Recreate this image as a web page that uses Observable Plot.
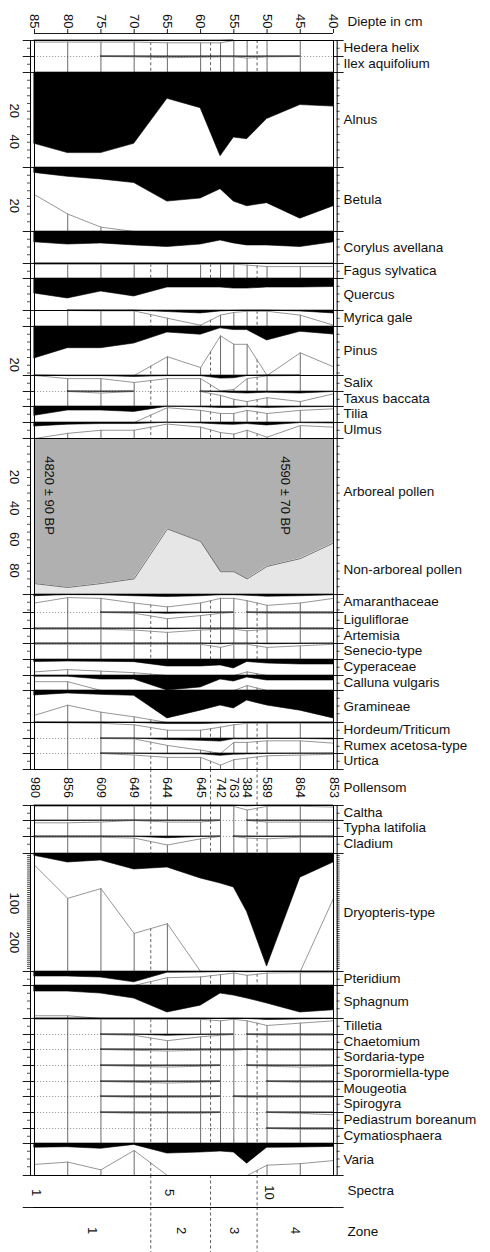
<!DOCTYPE html>
<html><head><meta charset="utf-8">
<script src="https://cdn.jsdelivr.net/npm/d3@7"></script>
<script src="https://cdn.jsdelivr.net/npm/@observablehq/plot@0.6"></script>
<style>
html,body{margin:0;padding:0;background:#fff;}
#chart svg{display:block;}
</style></head><body><div id="chart"></div>
<script>
// ---------------- DATA ----------------
const depths = [85, 80, 75, 70, 65, 60, 57, 55, 53, 50, 45, 40];
const depthTicks = [85, 80, 75, 70, 65, 60, 55, 50, 45, 40];
const pollenSum = [980, 856, 609, 649, 644, 645, 742, 763, 384, 589, 864, 853];
const spectraShown = [1, 5, 10];
const zoneBounds = [67.5, 58.5, 51.5];
const zoneNames = ["1", "2", "3", "4"];
const dates = [{depth: 82.8, label: "4820 ± 90 BP"}, {depth: 47.2, label: "4590 ± 70 BP"}];

// percentages per sample (same order as depths)
const hedera      = [0.2, 0.2, 0.2, 0.2, 0.3, 0.3, 0.3, 0, 0, 0, 0, 0];
const ilex        = [0, 0, 0, 0.05, 0.15, 0.1, 0.05, 0.05, 0.2, 0.05, 0, 0];
const alnus       = [46, 52, 52, 46, 17, 23, 54, 42, 43, 30, 21, 22];
const betula      = [3.5, 6, 7.7, 10, 22, 20, 14, 22, 25, 23, 33, 25];
const corylus     = [7, 8.4, 7.7, 9, 10, 8.4, 5.8, 7.7, 9, 9, 10, 7];
const fagus       = [0.1, 0.1, 0.1, 0.1, 0.1, 0.1, 0.1, 0.1, 0.2, 0.4, 0.4, 0.4];
const quercus     = [9.7, 12.9, 8.4, 11.6, 5.8, 5.8, 5.8, 6.5, 6.5, 5.8, 5.8, 5.5];
const myrica      = [0, 0, 0.05, 0.05, 1.0, 1.9, 0.6, 0.25, 0.1, 0.1, 0.6, 1.9];
const pinus       = [20.6, 14, 14, 11, 3.9, 5.3, 1.2, 2.3, 2.3, 9, 3.4, 5.2];
const salix       = [0, 0.4, 0.4, 0.9, 0.4, 0.4, 2.0, 1.8, 0.4, 0.05, 0, 0];
const taxus       = [0, 0, 0.2, 0, 0, 0, 0.5, 1.0, 1.3, 0.8, 1.3, 0.3];
const tilia       = [6, 2.6, 2.6, 3.5, 0.15, 0.5, 0.9, 0.9, 0.5, 0.9, 0.5, 0.3];
const ulmus       = [2.6, 1.4, 1.0, 1.0, 0.2, 0.6, 1.3, 1.5, 1.0, 1.9, 0.4, 0.6];
const arborealPollen = [93, 95.5, 93, 90, 58, 66, 85.4, 85.4, 90, 82, 77, 67];
const amaranth    = [1.1, 0.4, 0.5, 1.1, 1.6, 1.1, 0.5, 0.5, 0.8, 1.4, 1.1, 0.5];
const liguliflorae= [0, 0, 0, 0.1, 0.8, 0.4, 0.1, 0, 0, 0.1, 0.1, 0.1];
const artemisia   = [0.1, 0.1, 0.1, 0.2, 0.5, 0.2, 0.1, 0.1, 0.3, 0.1, 0.1, 0.1];
const senecio     = [0.1, 0.1, 0.1, 0.1, 0.1, 0.1, 0.5, 0.1, 0.1, 0.5, 0.3, 0.1];
const cyperaceae  = [1.6, 1.3, 1.5, 1.7, 4.5, 4.5, 3.8, 5.8, 1.6, 2.6, 3.2, 3.2];
const calluna     = [0.8, 0.8, 2.6, 2.6, 9.7, 7.7, 2.6, 3.9, 1.3, 3.2, 3.2, 3.2];
const gramineae   = [3.2, 1.9, 2.8, 3.4, 18, 13, 9.7, 11.6, 6.5, 9.7, 13, 18];
const hordeum     = [0, 0.05, 0.1, 0.3, 1.0, 1.0, 0.6, 0.3, 0.1, 0.1, 0.1, 0.1];
const rumex       = [0, 0, 0, 0.05, 0.9, 1.5, 2.0, 0.5, 0.5, 0.3, 0.3, 0.6];
const urtica      = [0, 0, 0, 0.2, 0.5, 0.5, 1.5, 0.8, 0.6, 0.3, 0.2, 0.1];
const caltha      = [0.1, 0.1, 0.1, 0.1, 0.1, 0.1, 0.1, 0.1, 0.6, 0.1, 0.1, 0.2];
const typha       = [0.3, 0.3, 0.2, 0, 0.2, 0.2, 0, 0, 0, 0.2, 0.2, 0.2];
const cladium     = [0.1, 0.1, 0.1, 0.2, 1.1, 0.3, 0, 0, 0.2, 0.3, 0.1, 0.1];
const dryopteris  = [6, 23, 18, 41, 36, 64, 77, 87, 150, 290, 62, 23];
const pteridium   = [3.2, 3.2, 3.9, 7, 0.8, 0.7, 0.4, 0.2, 0.5, 0.2, 0.15, 0.15];
const sphagnum    = [3.9, 3.9, 5.2, 8.4, 17.4, 13, 5.2, 6.5, 8.4, 11.6, 17.4, 16];
const tilletia    = [0.1, 0.1, 0.1, 0.1, 0.1, 0.1, 0.3, 0.1, 0.3, 0.9, 0.6, 0.3];
const chaetomium  = [0, 0, 0, 0.1, 0.8, 0.3, 0.1, 0, 0, 0.1, 0.1, 0.1];
const sordaria    = [0, 0, 0, 0.1, 0.2, 0.1, 0.1, 0.1, 0, 0.1, 0.1, 0.1];
const sporormiella= [0, 0, 0, 0.1, 0.2, 0.1, 0, 0, 0, 0.1, 0.2, 0.1];
const mougeotia   = [0, 0, 0, 0.1, 0.2, 0.1, 0, 0, 0, 0, 0.1, 0.1];
const spirogyra   = [0, 0, 0, 0.1, 0.1, 0.1, 0, 0, 0.1, 0.1, 0.1, 0.1];
const pediastrum  = [0, 0, 0, 0.1, 0.1, 0.1, 0, 0, 0, 0, 0.1, 0.3];
const cymatio     = [0, 0, 0, 0, 0, 0, 0, 0, 0, 0, 0.1, 0.1];
const varia       = [2.7, 2.4, 3.4, 0.9, 6.5, 5.8, 5.2, 5.8, 13, 2.8, 2.6, 2.2];

// ---------------- LAYOUT ----------------
const TOP = 40, AXIS_Y = 33;
const K = 1.55;           // px per percent
const EXAG = 5;           // exaggeration factor
const STUB_L = 86.7, STUB_R = 38.4, OUT_L = 85.6, OUT_R = 39.45;
const rowDefs = [
  ["Hedera helix", "taxon", hedera, 16],
  ["Ilex aquifolium", "taxon", ilex, 16],
  ["Alnus", "taxon", alnus, 95, K, [20, 40]],
  ["Betula", "taxon", betula, 64, K, [20]],
  ["Corylus avellana", "taxon", corylus, 32],
  ["Fagus sylvatica", "taxon", fagus, 15],
  ["Quercus", "taxon", quercus, 32],
  ["Myrica gale", "taxon", myrica, 16],
  ["Pinus", "taxon", pinus, 49, K, [20]],
  ["Salix", "taxon", salix, 16],
  ["Taxus baccata", "taxon", taxus, 15],
  ["Tilia", "taxon", tilia, 16],
  ["Ulmus", "taxon", ulmus, 16],
  ["Arboreal pollen", "ap", arborealPollen, 156, 1.56, [20, 40, 60, 80]],
  ["Amaranthaceae", "taxon", amaranth, 18],
  ["Liguliflorae", "taxon", liguliflorae, 16],
  ["Artemisia", "taxon", artemisia, 15],
  ["Senecio-type", "taxon", senecio, 16],
  ["Cyperaceae", "taxon", cyperaceae, 16],
  ["Calluna vulgaris", "taxon", calluna, 15],
  ["Gramineae", "taxon", gramineae, 32],
  ["Hordeum/Triticum", "taxon", hordeum, 16],
  ["Rumex acetosa-type", "taxon", rumex, 15],
  ["Urtica", "taxon", urtica, 16],
  ["Pollensom", "sum", null, 36],
  ["Caltha", "taxon", caltha, 15],
  ["Typha latifolia", "taxon", typha, 16],
  ["Cladium", "taxon", cladium, 17],
  ["Dryopteris-type", "taxon", dryopteris, 118, 0.39, [100, 200]],
  ["Pteridium", "taxon", pteridium, 14],
  ["Sphagnum", "taxon", sphagnum, 33],
  ["Tilletia", "taxon", tilletia, 16],
  ["Chaetomium", "taxon", chaetomium, 15],
  ["Sordaria-type", "taxon", sordaria, 16],
  ["Sporormiella-type", "taxon", sporormiella, 16],
  ["Mougeotia", "taxon", mougeotia, 15],
  ["Spirogyra", "taxon", spirogyra, 16],
  ["Pediastrum boreanum", "taxon", pediastrum, 16],
  ["Cymatiosphaera", "taxon", cymatio, 15],
  ["Varia", "taxon", varia, 32],
  ["Spectra", "spectra", null, 32],
  ["Zone", "zone", null, 45]
];

let cursor = TOP;
const rows = rowDefs.map(([name, kind, values, h, k, scaleTicks]) => {
  const r = {name, kind, values, h, k: k || K, scaleTicks: scaleTicks || [], top: cursor, bottom: cursor + h};
  cursor += h;
  return r;
});
const byKind = kind => rows.filter(r => r.kind === kind);
const taxonRows = byKind("taxon");
const yv = (r, v) => r.top + Math.min(v * r.k, r.h);
const ye = (r, v) => r.top + Math.min(v * r.k * EXAG, r.h);

const blackPts = [], exagSegs = [], sampleLines = [], zoneLines = [];
for (const r of taxonRows) {
  let run = 0, prevOn = false;
  for (let i = 0; i < depths.length - 1; i++) {
    const a = r.values[i], b = r.values[i + 1];
    const on = a > 0 || b > 0;
    if (on) {
      if (!prevOn) { run++; blackPts.push({z: r.name + run, depth: depths[i], y1: r.top, y2: yv(r, a)}); }
      blackPts.push({z: r.name + run, depth: depths[i + 1], y1: r.top, y2: yv(r, b)});
      exagSegs.push({x1: depths[i], x2: depths[i + 1], y1: ye(r, a), y2: ye(r, b)});
    }
    prevOn = on;
  }
  depths.forEach((d, i) => {
    if (i === 0 || i === depths.length - 1) return;
    const y1 = ye(r, r.values[i]);
    if (y1 < r.bottom - 0.3) sampleLines.push({depth: d, y1, y2: r.bottom});
  });
  for (const zb of zoneBounds) {
    const i = depths.findIndex((d, j) => d > zb && depths[j + 1] < zb);
    const t = (depths[i] - zb) / (depths[i] - depths[i + 1]);
    const ya = ye(r, r.values[i]), yb = ye(r, r.values[i + 1]);
    const y1 = ya + (yb - ya) * t;
    if (y1 < r.bottom - 0.3) zoneLines.push({depth: zb, y1, y2: r.bottom});
  }
}
for (const r of rows.filter(r => ["sum", "spectra", "zone"].includes(r.kind))) {
  for (const zb of zoneBounds) zoneLines.push({depth: zb, y1: r.top, y2: r.bottom});
}

const apRow = byKind("ap")[0];
const apArea = depths.map((d, i) => ({depth: d, y1: apRow.top, y2: yv(apRow, arborealPollen[i]), y3: apRow.bottom}));

const hLines = rows.map((r, i) => {
  const p = rows[i - 1];
  const solid = i === 0 || r.h >= 30 || r.kind !== "taxon" || (p && (p.h >= 30 || p.kind !== "taxon"));
  return {y: r.top, solid};
});

const sumRow = byKind("sum")[0], specRow = byKind("spectra")[0], zoneRow = byKind("zone")[0];
const blocks = [{y1: TOP, y2: sumRow.top}, {y1: sumRow.bottom, y2: specRow.top}];
const frameV = [];
for (const b of blocks) for (const x of [85, 40, OUT_L, OUT_R]) frameV.push({x, ...b});

const minor = [];
for (const r of rows.filter(r => r.kind === "taxon" || r.kind === "ap")) {
  for (let t = r.k * 5; t < r.h - 2; t += r.k * 5) minor.push({y: r.top + t});
}
const scaleLabels = rows.flatMap(r => r.scaleTicks.map(v => ({y: r.top + v * r.k, label: String(v)})));

const rightLabels = rows.filter(r => r.kind === "taxon" || r.kind === "sum").map(r => ({
  y: r.h >= 30 ? r.top + r.h / 2 : r.top + 7, label: r.name
}));
rightLabels.push({y: apRow.top + 53, label: "Arboreal pollen"});
rightLabels.push({y: apRow.top + 131, label: "Non-arboreal pollen"});
const bottomLabels = [{y: specRow.top + 15, label: "Spectra"}, {y: zoneRow.top + 24, label: "Zone"}];

const sumLabels = depths.map((d, i) => ({depth: d, label: String(pollenSum[i])}));
const spectraLabels = spectraShown.map(n => ({depth: depths[n - 1], label: String(n)}));
const zoneEdges = [depths[0], ...zoneBounds, depths[depths.length - 1]];
const zoneLabels = zoneNames.map((z, i) => ({depth: (zoneEdges[i] + zoneEdges[i + 1]) / 2, label: z}));

const FONT = '"Liberation Sans", Arial, Helvetica, sans-serif';

const chart = Plot.plot({
  width: 490, height: 1252,
  marginLeft: 34, marginRight: 157, marginTop: 0, marginBottom: 0,
  x: {domain: [85, 40], range: [34, 333], axis: null},
  y: {domain: [0, 1252], range: [0, 1252], axis: null},
  style: {fontFamily: FONT, background: "#fff", color: "#111"},
  marks: [
    Plot.areaY(apArea, {x: "depth", y1: "y1", y2: "y2", fill: "#b0b0b0"}),
    Plot.areaY(apArea, {x: "depth", y1: "y2", y2: "y3", fill: "#e6e6e6"}),
    Plot.line(apArea, {x: "depth", y: "y2", stroke: "#666", strokeWidth: 0.9}),
    Plot.ruleY(hLines.filter(d => !d.solid), {y: "y", x1: 85, x2: 40, stroke: "#888", strokeWidth: 0.8, strokeDasharray: "1.2,1.8"}),
    Plot.ruleX(zoneLines, {x: "depth", y1: "y1", y2: "y2", stroke: "#333", strokeWidth: 0.8, strokeDasharray: "3,2.5"}),
    Plot.ruleX(sampleLines, {x: "depth", y1: "y1", y2: "y2", stroke: "#444", strokeWidth: 0.8}),
    Plot.link(exagSegs, {x1: "x1", y1: "y1", x2: "x2", y2: "y2", stroke: "#8a8a8a", strokeWidth: 0.9}),
    Plot.areaY(blackPts, {x: "depth", y1: "y1", y2: "y2", z: "z", fill: "#000", stroke: "#000", strokeWidth: 0.6}),
    Plot.ruleY(hLines.filter(d => d.solid), {y: "y", x1: 85, x2: 40, stroke: "#000", strokeWidth: 1}),
    Plot.ruleY(hLines, {y: "y", x1: STUB_L, x2: 85, stroke: "#000", strokeWidth: 0.9}),
    Plot.ruleY(hLines, {y: "y", x1: 40, x2: STUB_R, stroke: "#000", strokeWidth: 0.9}),
    Plot.ruleX(frameV, {x: "x", y1: "y1", y2: "y2", stroke: "#000", strokeWidth: 1}),
    Plot.ruleY(minor, {y: "y", x1: 86.05, x2: OUT_L, stroke: "#000", strokeWidth: 0.7}),
    Plot.ruleY(minor, {y: "y", x1: OUT_R, x2: 39.0, stroke: "#000", strokeWidth: 0.7}),
    Plot.ruleY([AXIS_Y], {y: d => d, x1: 85, x2: 40, stroke: "#000", strokeWidth: 0.9}),
    Plot.ruleX(depthTicks, {x: d => d, y1: AXIS_Y - 4, y2: AXIS_Y, stroke: "#000", strokeWidth: 0.9}),
    Plot.text(depthTicks, {x: d => d, y: AXIS_Y - 5, text: d => String(d), rotate: 90, textAnchor: "end", fontSize: 13, fill: "#111"}),
    Plot.text(["Diepte in cm"], {y: AXIS_Y - 12, text: d => d, frameAnchor: "right", dx: 14, textAnchor: "start", fontSize: 13.5, fill: "#111"}),
    Plot.text(scaleLabels, {y: "y", text: "label", frameAnchor: "left", dx: -20, rotate: 90, fontSize: 13, fill: "#111"}),
    Plot.text(dates, {x: "depth", y: apRow.top + 57, text: "label", rotate: 90, fontSize: 13, fill: "#111"}),
    Plot.text(sumLabels, {x: "depth", y: sumRow.top + 18, text: "label", rotate: 90, fontSize: 12.5, fill: "#111"}),
    Plot.text(spectraLabels, {x: "depth", y: specRow.top + 17, text: "label", rotate: 90, fontSize: 13, fill: "#111", dx: 2}),
    Plot.text(zoneLabels, {x: "depth", y: zoneRow.top + 23, text: "label", rotate: 90, fontSize: 13, fill: "#111"}),
    Plot.text(rightLabels, {y: "y", text: "label", frameAnchor: "right", dx: 10, textAnchor: "start", fontSize: 13.5, fill: "#111"}),
    Plot.text(bottomLabels, {y: "y", text: "label", frameAnchor: "right", dx: 14, textAnchor: "start", fontSize: 13.5, fill: "#111"})
  ]
});
document.getElementById("chart").appendChild(chart);
</script>
</body></html>
